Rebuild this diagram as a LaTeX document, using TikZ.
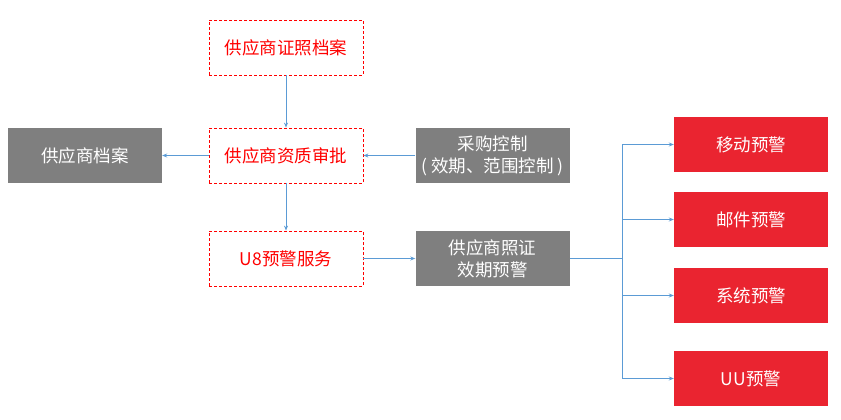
\documentclass[tikz,border=0pt]{standalone}
\usepackage{fontspec}
\usetikzlibrary{arrows.meta}
\newfontfamily\cjk{Noto Sans CJK SC}
\definecolor{boxred}{RGB}{234,36,48}
\definecolor{boxgray}{RGB}{127,127,127}
\definecolor{linkblue}{RGB}{91,155,213}

\begin{document}
\begin{tikzpicture}[x=1pt, y=-1pt]
	\tikzstyle{every node}=[font=\cjk\fontsize{17.5}{22}\selectfont, minimum width=154pt, minimum height=55pt, inner sep=0pt, align=center]
	\tikzstyle{dashbox}=[draw=red, dash pattern=on 3pt off 2pt, line width=0.8pt, text=red]
	\tikzstyle{graybox}=[fill=boxgray, text=white]
	\tikzstyle{redbox}=[fill=boxred, text=white]
	\tikzstyle{link}=[draw=linkblue, line width=0.9pt, -{Stealth[length=5pt, width=4pt]}]

	\useasboundingbox (0,0) rectangle (841,420);

	%middle column
	\node[dashbox] (zhengzhao) at (286,47.5) {供应商证照档案};
	\node[dashbox] (shenpi) at (286,155.5) {供应商资质审批};
	\node[dashbox] (yujing) at (286,258.5) {U8预警服务};

	%gray boxes
	\node[graybox] (dangan) at (85,155.5) {供应商档案};
	\node[graybox] (caigou) at (492.5,155.5) {采购控制\\( 效期、范围控制 )};
	\node[graybox] (xiaoqi) at (492.5,258.5) {供应商照证\\效期预警};

	%warnings
	\node[redbox] (yidong) at (751,144.5) {移动预警};
	\node[redbox] (youjian) at (751,219.5) {邮件预警};
	\node[redbox] (xitong) at (751,295.5) {系统预警};
	\node[redbox] (uu) at (751,378.5) {UU预警};

	%links
	\draw[link] (zhengzhao) -- (shenpi);
	\draw[link] (shenpi) -- (dangan);
	\draw[link] (caigou) -- (shenpi);
	\draw[link] (shenpi) -- (yujing);
	\draw[link] (yujing) -- (xiaoqi);
	\coordinate (branch) at (622,258.5);
	\draw[draw=linkblue, line width=0.9pt] (xiaoqi.east) -- (branch);
	\foreach \target in {yidong,youjian,xitong,uu}
		\draw[link] (branch) |- (\target.west);
\end{tikzpicture}
\end{document}
